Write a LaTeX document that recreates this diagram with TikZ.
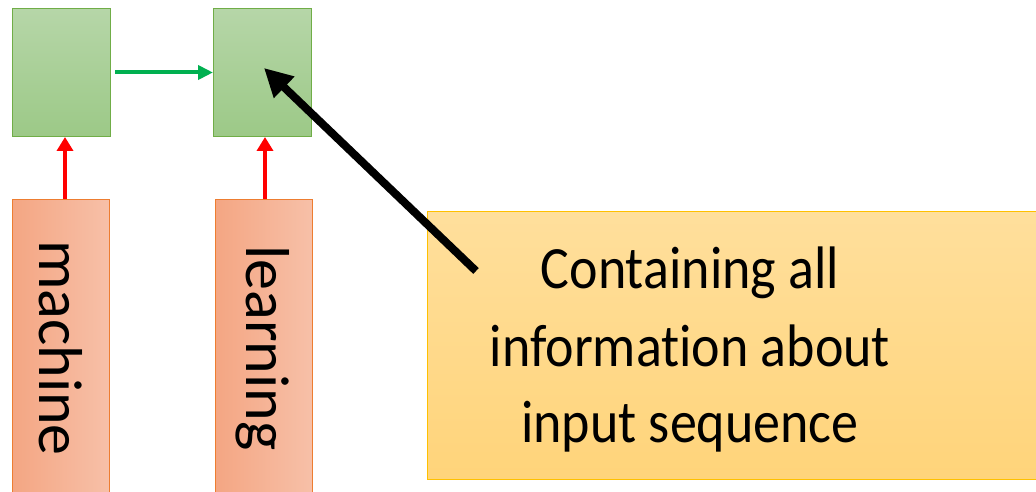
\documentclass[tikz,border=0pt]{standalone}
\usepackage{fontspec}
\setmainfont{Carlito}[Ligatures=NoCommon]
\usetikzlibrary{arrows.meta}
\definecolor{gtop}{HTML}{B6D6A8}
\definecolor{gbot}{HTML}{9CC987}
\definecolor{gedge}{HTML}{70AD47}
\definecolor{rleft}{HTML}{F4A683}
\definecolor{rright}{HTML}{F7C0A8}
\definecolor{redge}{HTML}{ED7D31}
\definecolor{ytop}{HTML}{FFDF9C}
\definecolor{ybot}{HTML}{FFD47A}
\definecolor{yedge}{HTML}{FFC000}
\definecolor{garrow}{HTML}{00B050}
\tikzset{
  cell/.style={draw=gedge, line width=1pt, top color=gtop, bottom color=gbot, minimum width=98pt, minimum height=128pt, anchor=north west, inner sep=0pt},
  word/.style={draw=redge, line width=1pt, left color=rleft, right color=rright, minimum width=97pt, minimum height=300pt, anchor=north west, inner sep=0pt},
  wordtext/.style={rotate=-90, font=\fontsize{62}{70}\selectfont},
  note/.style={draw=yedge, line width=1pt, top color=ytop, bottom color=ybot, minimum width=612pt, minimum height=268pt, anchor=north west, inner sep=0pt},
  notetext/.style={align=center, xscale=0.9, transform shape, font=\fontsize{60}{77}\selectfont, inner sep=0pt},
  recur/.style={draw=garrow, line width=4pt, -{Triangle[length=15pt,width=14pt]}},
  inp/.style={draw=red, line width=4pt, -{Triangle[length=14pt,width=16pt]}},
  point/.style={draw=black, line width=8pt, -{Triangle[length=28pt,width=28pt]}}
}
\begin{document}
\begin{tikzpicture}[x=1pt,y=-1pt]
\clip (0,0) rectangle (1036,492);
\fill[white] (0,0) rectangle (1036,492);
\node[cell] (g1) at (12,8) {};
\node[cell] (g2) at (213,8) {};
\node[word] (r1) at (12,199) {};
\node[word] (r2) at (215,199) {};
\node[wordtext] (t1) at (61,348) {machine};
\node[wordtext] (t2) at (263,348) {learning};
\node[note] (y) at (427,211) {};
\node[notetext] (ytext) at (690,350) {Containing all\\information about\\input sequence};
\draw[recur] ([xshift=4pt]g1.east) -- (g2.west);
\draw[inp] (r1.north -| 65,0) -- (g1.south -| 65,0);
\draw[inp] (r2.north -| 265,0) -- (g2.south -| 265,0);
\coordinate (tail) at (476,271);
\coordinate (tip) at (264,68);
\draw[point] (tail) -- (tip);
\end{tikzpicture}
\end{document}
